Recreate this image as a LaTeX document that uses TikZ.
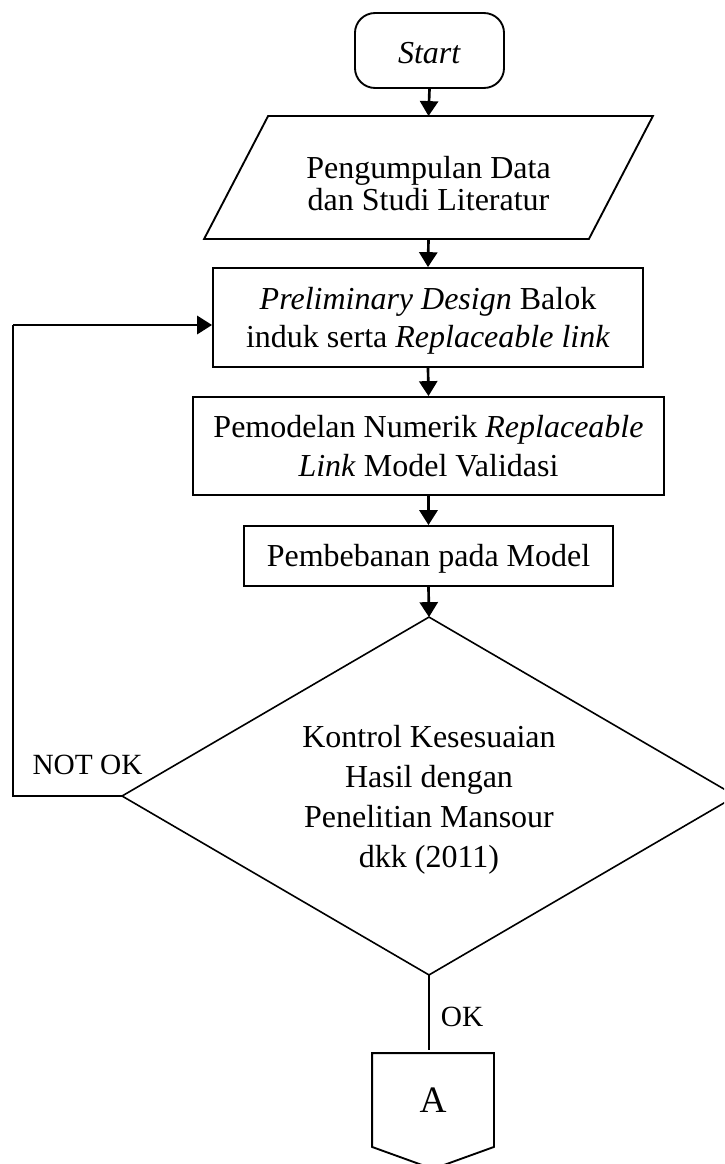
\documentclass[tikz,border=0pt]{standalone}
\usepackage{fontspec}
\setmainfont{Liberation Serif}
\usetikzlibrary{shapes.geometric,arrows.meta,calc}
\begin{document}
\begin{tikzpicture}[x=0.375pt,y=-0.375pt,
  shapebox/.style={draw,line width=0.7pt,inner sep=0pt},
  txt/.style={inner sep=0pt,align=center,font=\fontsize{12}{14.6}\selectfont},
  flow/.style={line width=1pt,-{Triangle[length=5.6pt,width=6.8pt]}},
  thinline/.style={line width=0.5pt},
  lbl/.style={font=\fontsize{11}{13}\selectfont,inner sep=0pt}]
\useasboundingbox (0,0) rectangle (724,1164);
\clip (0,0) rectangle (724,1164);

% Start terminator
\node[shapebox,rounded corners=7.5pt,minimum width=55.9pt,minimum height=28.1pt] (start) at (429.5,50.5) {};
\node[txt] (startt) at ([yshift=-0.8pt]start.center) {\textit{Start}};

% Data (parallelogram)
\node[shapebox,draw=none,minimum width=167.6pt,minimum height=45.4pt] (data) at (428.5,177.5) {};
\draw[line width=0.7pt] (data.south west) -- ([xshift=-24pt]data.south east) -- (data.north east) -- ([xshift=24pt]data.north west) -- cycle;
\node[txt,font=\fontsize{12}{12}\selectfont] (datat) at ([yshift=-2.4pt]data.center) {Pengumpulan Data\\dan Studi Literatur};

% Process boxes
\node[shapebox,minimum width=161.25pt,minimum height=37.1pt] (p1) at (428,317.5) {};
\node[txt,font=\fontsize{12}{14.25}\selectfont] (p1t) at ([yshift=-1.1pt]p1.center) {\textit{Preliminary Design} Balok\\induk serta \textit{Replaceable link}};

\node[shapebox,minimum width=176.6pt,minimum height=36.75pt] (p2) at (428.5,446) {};
\node[txt] (p2t) at (p2.center) {Pemodelan Numerik \textit{Replaceable}\\\textit{Link} Model Validasi};

\node[shapebox,minimum width=138.4pt,minimum height=22.5pt] (p3) at (428.5,556) {};
\node[txt] (p3t) at ([yshift=-1.1pt]p3.center) {Pembebanan pada Model};

% Decision (diamond drawn on the node's bounding rectangle)
\node[shapebox,draw=none,minimum width=229.5pt,minimum height=133.5pt] (dec) at (429,796) {};
\draw[line width=0.6pt] (dec.north) -- (dec.east) -- (dec.south) -- (dec.west) -- cycle;
\node[txt,font=\fontsize{12}{15}\selectfont] (dect) at ([yshift=-1.3pt]dec.center) {Kontrol Kesesuaian\\Hasil dengan\\Penelitian Mansour\\dkk (2011)};

% Off-page connector
\node[shapebox,draw=none,minimum width=45pt,minimum height=34.5pt] (A) at (433,1100) {};
\draw[line width=0.7pt] (A.south west) -- (A.north west) -- (A.north east) -- (A.south east) -- ([yshift=-8.25pt]A.south) -- cycle;
\node[txt,font=\fontsize{14}{16}\selectfont] (At) at (A.center) {A};

% Connectors
\draw[flow] (start.south) -- (data.north);
\draw[flow] (data.south) -- (p1.north);
\draw[flow] (p1.south) -- (p2.north);
\draw[flow] (p2.south) -- (p3.north);
\draw[flow] (p3.south) -- (dec.north);

\coordinate (nok) at (13,325);
\draw[thinline] (dec.west) -| (nok);
\draw[flow] (nok) -- (nok -| p1.west);
\node[lbl] (notok) at (87.5,765) {NOT OK};

\draw[thinline] (dec.south) -- ([yshift=1pt]dec.south |- A.north);
\node[lbl] (ok) at (462,1017) {OK};
\end{tikzpicture}
\end{document}
